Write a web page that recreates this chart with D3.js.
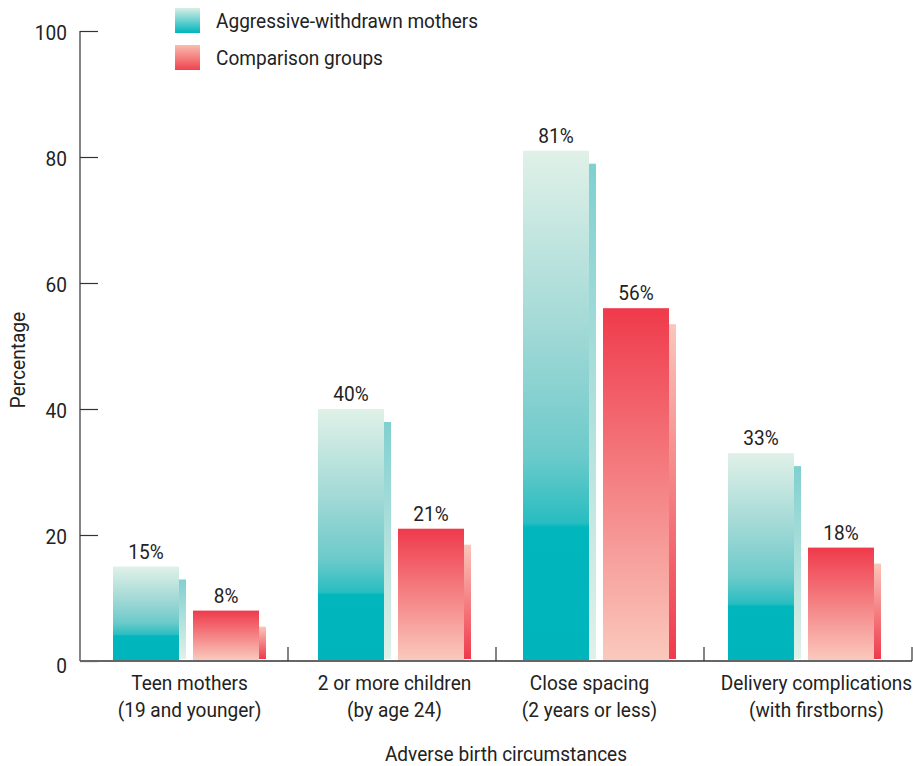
<!DOCTYPE html>
<html>
<head>
<meta charset="utf-8">
<script src="https://cdn.jsdelivr.net/npm/d3@7"></script>
<style>
  html, body { margin: 0; padding: 0; background: #fff; }
  svg text { font-family: Roboto, "Liberation Sans", sans-serif; fill: #222; }
</style>
</head>
<body>
<svg id="chart" width="913" height="766"></svg>
<script>
// Categories (two-line labels) and series values, in percent
const categories = [
  ["Teen mothers", "(19 and younger)"],
  ["2 or more children", "(by age 24)"],
  ["Close spacing", "(2 years or less)"],
  ["Delivery complications", "(with firstborns)"]
];
const seriesNames = ["Aggressive-withdrawn mothers", "Comparison groups"];
const aggressiveWithdrawn = [15, 40, 81, 33];
const comparisonGroups = [8, 21, 56, 18];
const yTicks = [0, 20, 40, 60, 80, 100];

const svg = d3.select("#chart");
const x0 = 80, x1 = 912, yBase = 661, yTop = 31;
const fs = 20.5;
const squeeze = 0.93; // narrow the type horizontally

// place a text at (x, y) with a slightly condensed width
function place(sel, x, y, rot) {
  return sel.attr("transform", d => {
    const px = typeof x === "function" ? x(d) : x;
    const py = typeof y === "function" ? y(d) : y;
    return `translate(${px},${py})` + (rot ? ` rotate(${rot})` : "") + ` scale(${squeeze},1)`;
  });
}

const y = d3.scaleLinear().domain([0, 100]).range([yBase, yTop]);
// group separators span the full axis; bar pairs sit on a slightly inset band
const xAxisBand = d3.scaleBand().domain(d3.range(categories.length)).range([x0, x1]);
const xGroup = d3.scaleBand().domain(d3.range(categories.length)).range([87, 907]);

// Gradients: front face and narrow side face for each series
const defs = svg.append("defs");
function grad(id, stops) {
  const g = defs.append("linearGradient").attr("id", id)
    .attr("x1", 0).attr("y1", 0).attr("x2", 0).attr("y2", 1);
  stops.forEach(([o, c]) => g.append("stop").attr("offset", o).attr("stop-color", c));
}
grad("tealFront", [[0, "#e0f1e8"], [0.35, "#a2d9d6"], [0.6, "#6ccaca"], [0.73, "#28bdc1"], [0.74, "#00b7bd"], [1, "#00b4bb"]]);
grad("tealSide", [[0, "#80d0d0"], [1, "#e0f1e8"]]);
grad("redFront", [[0, "#ef3a4b"], [1, "#fac9bd"]]);
grad("redSide", [[0, "#fac6bb"], [1, "#ef3a4b"]]);
grad("tealKey", [[0, "#d8efe5"], [1, "#00b5bd"]]);
grad("redKey", [[0, "#f9bdb0"], [1, "#ef434f"]]);

// Bar geometry inside each group
const frontW = 66, sideW = 7, pairGap = 7;
const pairW = frontW * 2 + sideW * 2 + pairGap;
const series = [
  { name: seriesNames[0], values: aggressiveWithdrawn, front: "url(#tealFront)", side: "url(#tealSide)", drop: 13, offset: 0 },
  { name: seriesNames[1], values: comparisonGroups, front: "url(#redFront)", side: "url(#redSide)", drop: 16, offset: frontW + sideW + pairGap }
];

const bars = svg.append("g");
series.forEach(s => {
  const g = bars.append("g");
  const left = i => xGroup(i) + xGroup.bandwidth() / 2 - pairW / 2 + s.offset;
  // side face, slightly lower than the front face
  g.selectAll("rect.side").data(s.values).join("rect").attr("class", "side")
    .attr("x", (d, i) => left(i) + frontW)
    .attr("y", d => y(d) + s.drop)
    .attr("width", sideW)
    .attr("height", d => y(0) - 2 - (y(d) + s.drop))
    .attr("fill", s.side);
  g.selectAll("rect.front").data(s.values).join("rect").attr("class", "front")
    .attr("x", (d, i) => left(i))
    .attr("y", d => y(d))
    .attr("width", frontW)
    .attr("height", d => y(0) - 1 - y(d))
    .attr("fill", s.front);
  g.selectAll("text.val").data(s.values.map((v, i) => ({ v, i }))).join("text").attr("class", "val")
    .call(place, d => left(d.i) + frontW / 2, d => y(d.v) - 8)
    .attr("text-anchor", "middle")
    .attr("font-size", fs)
    .text(d => d.v + "%");
});

// Y axis: ticks point inward
const yAxis = svg.append("g").attr("transform", `translate(${x0},0)`)
  .call(d3.axisRight(y).tickValues(yTicks).tickSize(18).tickFormat(""));
yAxis.select(".domain").remove();
yAxis.selectAll("line").attr("stroke", "#333").attr("stroke-width", 1.2);
svg.append("line").attr("x1", x0).attr("x2", x0).attr("y1", yTop).attr("y2", yBase)
  .attr("stroke", "#333").attr("stroke-width", 1.2);
svg.append("g").selectAll("text").data(yTicks).join("text")
  .call(place, 67, d => y(d) + 4 + (d === 0 ? 3 : 0))
  .attr("text-anchor", "end").attr("dominant-baseline", "middle")
  .attr("font-size", fs).text(d => d);

// X axis baseline with group separators
const xAxis = svg.append("g").attr("transform", `translate(0,${yBase})`)
  .call(d3.axisBottom(xAxisBand).tickSize(0).tickFormat(""));
xAxis.select(".domain").attr("d", `M${x0},0H${x1}`).attr("stroke", "#666").attr("stroke-width", 2);
const seps = d3.range(1, categories.length + 1).map(i => x0 + i * xAxisBand.step());
svg.append("g").selectAll("line").data(seps).join("line")
  .attr("x1", d => d).attr("x2", d => d)
  .attr("y1", yBase).attr("y2", yBase - 14)
  .attr("stroke", "#333").attr("stroke-width", 1.2);

// Category labels
const catG = svg.append("g");
categories.forEach((lines, i) => {
  const cx = xGroup(i) + xGroup.bandwidth() / 2 + (i === 3 ? 12 : i === 2 ? -10 : 0);
  const t = catG.append("text").call(place, cx, 690)
    .attr("text-anchor", "middle").attr("font-size", fs);
  lines.forEach((l, k) => t.append("tspan").attr("x", 0).attr("dy", k === 0 ? 0 : 27).text(l));
});

// Axis titles
svg.append("text").call(place, 506, 761).attr("text-anchor", "middle")
  .attr("font-size", fs).text("Adverse birth circumstances");
svg.append("text").call(place, 25, 360, -90)
  .attr("text-anchor", "middle").attr("font-size", fs).text("Percentage");

// Legend
const legend = svg.append("g");
[["url(#tealKey)", seriesNames[0]], ["url(#redKey)", seriesNames[1]]].forEach(([f, n], i) => {
  legend.append("rect").attr("x", 175).attr("y", 8 + i * 37).attr("width", 25).attr("height", 25).attr("fill", f);
  legend.append("text").call(place, 216, 28 + i * 37).attr("font-size", fs).text(n);
});
</script>
</body>
</html>
